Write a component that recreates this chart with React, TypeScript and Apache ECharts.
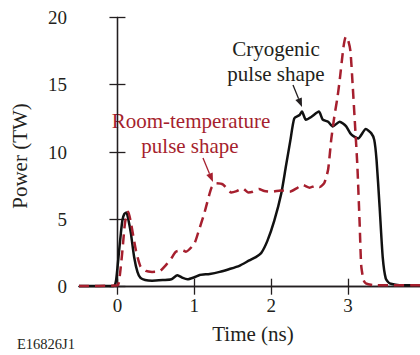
import React, { useEffect, useRef } from "react";
import * as echarts from "echarts";

// Cryogenic pulse shape (solid black)
const cryoTime = [
  -0.5, -0.05, -0.02, 0.0, 0.022, 0.045, 0.065, 0.09, 0.117, 0.145, 0.175, 0.217, 0.26, 0.3, 0.36, 0.45,
  0.6, 0.7, 0.78, 0.85, 0.91, 1.0, 1.07, 1.2, 1.33, 1.45, 1.585, 1.715, 1.8, 1.87, 1.95, 2.04, 2.13,
  2.19, 2.25, 2.3, 2.37, 2.4, 2.45, 2.52, 2.62, 2.67, 2.74, 2.8, 2.89, 2.975, 3.04, 3.13, 3.23, 3.3,
  3.34, 3.37, 3.41, 3.45, 3.49, 3.54, 3.7, 4.0,
];
const cryoPower = [
  0.05, 0.05, 0.4, 1.4, 2.7, 4.0, 4.95, 5.4, 5.5, 4.9, 3.96, 2.2, 1.1, 0.65, 0.5, 0.45,
  0.5, 0.55, 0.85, 0.65, 0.55, 0.7, 0.87, 0.95, 1.1, 1.3, 1.55, 1.95, 2.2, 2.5, 3.4, 4.9, 6.9,
  8.9, 10.9, 12.5, 12.75, 13.0, 12.4, 12.6, 13.0, 12.4, 12.25, 11.9, 12.25, 11.9, 11.3, 11.0, 11.7, 11.4,
  10.9, 9.4, 5.9, 2.2, 0.6, 0.25, 0.1, 0.1,
];

// Room-temperature pulse shape (dashed red)
const roomTime = [
  -0.5, 0.0, 0.03, 0.065, 0.1, 0.14, 0.18, 0.24, 0.3, 0.37, 0.45, 0.55, 0.63, 0.7, 0.76, 0.85, 0.89,
  1.0, 1.06, 1.13, 1.22, 1.28, 1.37, 1.48, 1.55, 1.63, 1.7, 1.76, 1.84, 1.91, 2.02, 2.12, 2.24, 2.33,
  2.41, 2.5, 2.58, 2.63, 2.69, 2.74, 2.78, 2.82, 2.86, 2.89, 2.94, 2.97, 3.0, 3.03, 3.06, 3.09, 3.12,
  3.15, 3.17, 3.2, 3.23, 3.35, 4.0,
];
const roomPower = [
  0.05, 0.1, 0.8, 2.7, 4.8, 5.57, 4.6, 2.7, 1.5, 1.17, 1.1, 1.15, 1.6, 2.1, 2.6, 2.7, 2.6,
  3.2, 4.2, 5.45, 7.3, 7.68, 7.6, 7.0, 7.1, 7.3, 7.0, 7.05, 7.25, 7.1, 7.05, 7.15, 7.05, 7.3,
  7.55, 7.35, 7.5, 7.4, 7.7, 8.7, 10.9, 12.6, 14.0, 15.3, 17.8, 18.55, 18.3, 17.5, 14.9, 12.0, 9.0,
  4.7, 1.6, 0.5, 0.25, 0.1, 0.1,
];

const xTicks = [0, 1, 2, 3, 4];
const xLabels = [0, 1, 2, 3];
const yMin = 0;
const yMax = 20;
const yStep = 5;
const xMin = -0.5;
const xMax = 4;

const RED = "#a61f2e";
const INK = "#231f20";
const FAMILY = "Liberation Serif";
const FONT = '"Liberation Serif", serif';

export default function App() {
  const ref = useRef<HTMLDivElement>(null);
  useEffect(() => {
    if (!ref.current) return;
    const chart = echarts.init(ref.current, null, { renderer: "svg" });
    const cryo = cryoTime.map((t, i) => [t, cryoPower[i]]);
    const room = roomTime.map((t, i) => [t, roomPower[i]]);
    const axisLine = { show: true, lineStyle: { color: INK, width: 1.3 } };
    const tick = { show: true, inside: true, length: 8, lineStyle: { color: INK, width: 1.3 } };
    chart.setOption({
      animation: false,
      textStyle: { fontFamily: FAMILY },
      grid: {
        left: 79,
        right: -5,
        top: 17.3,
        bottom: 68.3,
        containLabel: false,
        outerBoundsMode: "none",
      },
      xAxis: [
        {
          type: "value",
          position: "bottom",
          min: xMin,
          max: xMax,
          axisLine,
          axisTick: { ...tick, customValues: xTicks },
          axisLabel: {
            customValues: xLabels,
            fontFamily: FAMILY,
            fontSize: 19,
            color: INK,
            margin: 9,
          },
          splitLine: { show: false },
        },
        {
          type: "value",
          position: "top",
          min: xMin,
          max: xMax,
          axisLine,
          axisTick: { ...tick, customValues: xTicks },
          axisLabel: { show: false },
          splitLine: { show: false },
        },
      ],
      yAxis: [
        {
          type: "value",
          position: "left",
          min: yMin,
          max: yMax,
          interval: yStep,
          axisLine,
          axisTick: tick,
          axisLabel: { fontFamily: FAMILY, fontSize: 19, color: INK, margin: 12 },
          splitLine: { show: false },
        },
        {
          type: "value",
          position: "right",
          min: yMin,
          max: yMax,
          interval: yStep,
          axisLine,
          axisTick: tick,
          axisLabel: { show: false },
          splitLine: { show: false },
        },
      ],
      series: [
        {
          type: "line",
          data: cryo,
          showSymbol: false,
          smooth: 0.2,
          lineStyle: { color: "#111", width: 2.5 },
          z: 2,
        },
        {
          type: "line",
          data: room,
          showSymbol: false,
          smooth: 0.2,
          lineStyle: { color: RED, width: 2.5, type: [10, 6] },
          z: 3,
        },
      ],
      graphic: [
        {
          type: "text",
          x: 20,
          y: 156,
          rotation: Math.PI / 2,
          style: { text: "Power (TW)", font: `21px ${FONT}`, fill: INK, align: "center", verticalAlign: "middle" },
        },
        {
          type: "text",
          x: 253,
          y: 334,
          style: { text: "Time (ns)", font: `21px ${FONT}`, fill: INK, align: "center", verticalAlign: "middle" },
        },
        {
          type: "text",
          x: 17,
          y: 344,
          style: { text: "E16826J1", font: `14.5px ${FONT}`, fill: INK, align: "left", verticalAlign: "middle" },
        },
        {
          type: "text",
          x: 276,
          y: 49,
          style: { text: "Cryogenic", font: `21px ${FONT}`, fill: INK, align: "center", verticalAlign: "middle" },
        },
        {
          type: "text",
          x: 276,
          y: 74,
          style: { text: "pulse shape", font: `21px ${FONT}`, fill: INK, align: "center", verticalAlign: "middle" },
        },
        {
          type: "text",
          x: 191,
          y: 121,
          style: { text: "Room-temperature", font: `21px ${FONT}`, fill: RED, align: "center", verticalAlign: "middle" },
        },
        {
          type: "text",
          x: 190,
          y: 146,
          style: { text: "pulse shape", font: `21px ${FONT}`, fill: RED, align: "center", verticalAlign: "middle" },
        },
        {
          type: "line",
          shape: { x1: 293, y1: 85, x2: 298.6, y2: 98.7 },
          style: { stroke: INK, lineWidth: 1.3 },
        },
        {
          type: "polygon",
          shape: { points: [[302, 107], [295.4, 100.0], [301.8, 97.4]] },
          style: { fill: INK },
        },
        {
          type: "line",
          shape: { x1: 203, y1: 158, x2: 209.5, y2: 173.7 },
          style: { stroke: RED, lineWidth: 1.3 },
        },
        {
          type: "polygon",
          shape: { points: [[213, 182], [206.3, 175.1], [212.7, 172.4]] },
          style: { fill: RED },
        },
      ],
    });
    return () => chart.dispose();
  }, []);
  return (
    <div
      ref={ref}
      style={{ position: "fixed", left: 0, top: 0, width: 420, height: 355, background: "#fff" }}
    />
  );
}
